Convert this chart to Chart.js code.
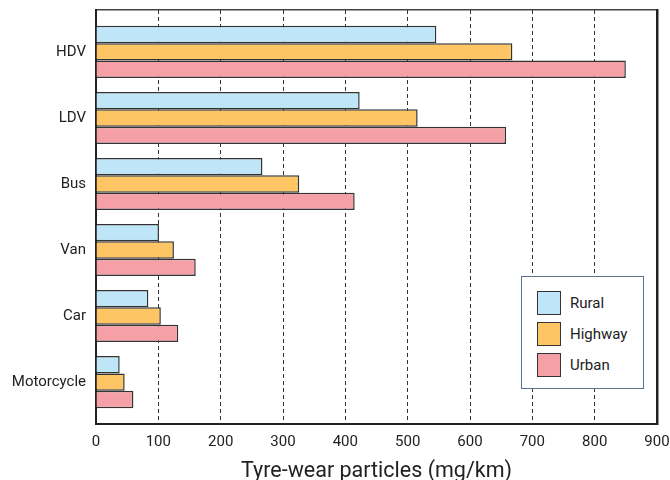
<!DOCTYPE html>
<html><head><meta charset="utf-8">
<script src="https://cdn.jsdelivr.net/npm/chart.js@4"></script>
<style>
html,body{margin:0;padding:0;background:#fff;}
#wrap{position:relative;width:670px;height:480px;}
#legend{position:absolute;left:521px;top:276px;width:123px;height:113px;border:1px solid #5b7290;background:#fff;box-sizing:border-box;font-family:Roboto,sans-serif;font-size:15px;color:#222;}
.item{position:absolute;left:15px;height:24px;display:flex;align-items:center;}
.sw{width:24px;height:24px;border:1.5px solid #333;box-sizing:border-box;margin-right:9px;}
</style></head>
<body><div id="wrap"><canvas id="c" width="670" height="480"></canvas><div id="legend"></div></div>
<script>
const categories = ['HDV', 'LDV', 'Bus', 'Van', 'Car', 'Motorcycle'];
const seriesNames = ['Rural', 'Highway', 'Urban'];
const rural = [546, 423, 267, 101, 84, 38];
const highway = [668, 516, 326, 125, 104, 46];
const urban = [850, 658, 415, 160, 132, 60];
const xTicks = [0, 100, 200, 300, 400, 500, 600, 700, 800, 900];
const colors = ['#bee6f8', '#fec564', '#f5a0a7'];
const axisTitle = 'Tyre-wear particles (mg/km)';

const EXTRA = 0.135;
const font = { family: 'Roboto', size: 15 };

const chart = new Chart(document.getElementById('c'), {
  type: 'bar',
  data: {
    labels: categories,
    datasets: [rural, highway, urban].map((d, i) => ({
      label: seriesNames[i],
      data: d,
      backgroundColor: colors[i],
      borderColor: '#333',
      borderWidth: 1.5,
      categoryPercentage: 0.79,
      barPercentage: 1.0
    }))
  },
  options: {
    indexAxis: 'y',
    responsive: false,
    animation: false,
    layout: { padding: 0 },
    plugins: { legend: { display: false }, tooltip: { enabled: false } },
    scales: {
      x: {
        type: 'linear',
        min: 0, max: 900,
        afterBuildTicks: s => { s.ticks = xTicks.map(v => ({ value: v })); },
        afterFit: s => { s.height = 56; s.paddingLeft = 0; s.paddingRight = 0; },
        ticks: { color: '#222', font: font, padding: 9, maxRotation: 0 },
        grid: { color: '#333', lineWidth: 1, drawTicks: false },
        border: { display: true, color: '#222', width: 2, dash: [4, 3] },
        title: { display: true, text: axisTitle, color: '#222', font: { family: 'Roboto', size: 21.5 }, padding: { top: 4, bottom: -5 } }
      },
      x2: {
        type: 'linear', position: 'top', min: 0, max: 900, display: true,
        afterFit: s => { s.height = 10; s.paddingLeft = 0; s.paddingRight = 0; },
        ticks: { display: false },
        grid: { drawOnChartArea: false, drawTicks: false },
        border: { display: true, color: '#444', width: 1.5 }
      },
      y: {
        type: 'category',
        afterBuildTicks: s => { s._startValue -= EXTRA; s._valueRange += 2 * EXTRA; },
        afterFit: s => { s.width = 96; s.paddingTop = 0; s.paddingBottom = 0; },
        ticks: { color: '#222', font: font, padding: 10 },
        grid: { drawOnChartArea: false, drawTicks: false },
        border: { display: true, color: '#222', width: 2 }
      },
      y2: {
        type: 'linear', position: 'right', min: 0, max: 1, display: true,
        afterFit: s => { s.width = 13; s.paddingTop = 0; s.paddingBottom = 0; },
        ticks: { display: false },
        grid: { drawOnChartArea: false, drawTicks: false },
        border: { display: true, color: '#222', width: 2.5 }
      }
    }
  }
});

const legendEl = document.getElementById('legend');
chart.data.datasets.forEach((ds, i) => {
  const it = document.createElement('div');
  it.className = 'item';
  it.style.top = (14 + i * 31) + 'px';
  const sw = document.createElement('div');
  sw.className = 'sw';
  sw.style.background = ds.backgroundColor;
  const tx = document.createElement('span');
  tx.textContent = ds.label;
  it.appendChild(sw); it.appendChild(tx);
  legendEl.appendChild(it);
});
</script>
</body></html>
